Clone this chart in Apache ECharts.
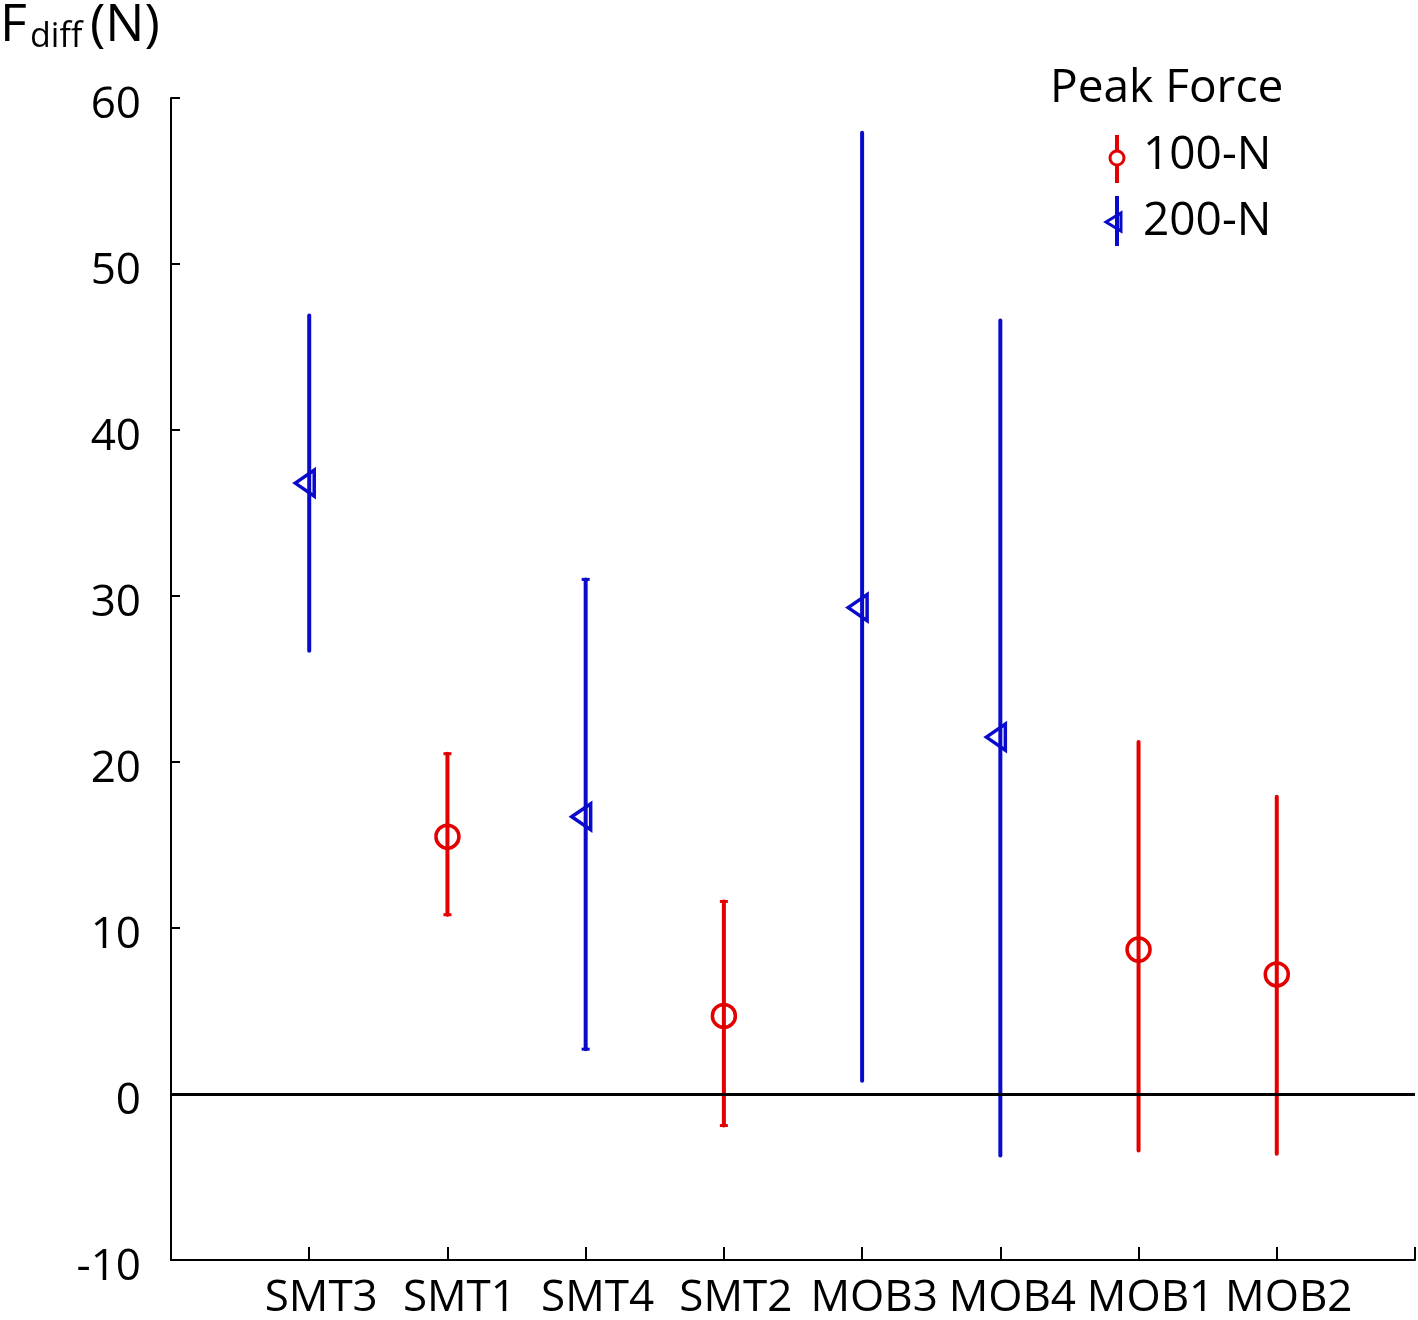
<!DOCTYPE html>
<html>
<head>
<meta charset="utf-8">
<script src="https://cdn.jsdelivr.net/npm/echarts@6/dist/echarts.min.js"></script>
<style>html,body{margin:0;padding:0;background:#fff}#c{width:1418px;height:1320px}</style>
</head>
<body>
<div id="c"></div>
<script>
// ---- data ----
const categories = ['SMT3','SMT1','SMT4','SMT2','MOB3','MOB4','MOB1','MOB2'];
const groups     = ['200-N','100-N','200-N','100-N','200-N','200-N','100-N','100-N'];
const means      = [36.8, 15.5, 16.7, 4.7, 29.3, 21.5, 8.7, 7.2];
const lowers     = [26.7, 10.8, 2.7, -1.9, 0.8, -3.7, -3.4, -3.6];
const uppers     = [46.9, 20.5, 31.0, 11.6, 57.9, 46.6, 21.2, 17.9];
const cappedCats = ['SMT1','SMT4','SMT2'];
const yTicks     = [-10, 0, 10, 20, 30, 40, 50, 60];
const legendNames = ['100-N','200-N'];

const RED = '#e30000', BLUE = '#0a0acc';
const FONT = '"Open Sans", sans-serif';

function seriesData(g) {
  const out = [];
  categories.forEach((c, i) => {
    if (groups[i] === g) out.push([c, means[i], lowers[i], uppers[i]]);
  });
  return out;
}

const d100 = seriesData('100-N');
const d200 = seriesData('200-N');

function makeRender(color, marker, data) {
  return function (params, api) {
    const cat = api.value(0);
    const m = api.coord([cat, api.value(1)]);
    const lo = api.coord([cat, api.value(2)]);
    const hi = api.coord([cat, api.value(3)]);
    const catName = data[params.dataIndex][0];
    const children = [{
      type: 'line',
      shape: { x1: lo[0], y1: lo[1], x2: hi[0], y2: hi[1] },
      style: { stroke: color, lineWidth: 4, lineCap: 'round' }
    }];
    if (cappedCats.indexOf(catName) >= 0) {
      [lo, hi].forEach(p => children.push({
        type: 'line',
        shape: { x1: p[0] - 4, y1: p[1], x2: p[0] + 4, y2: p[1] },
        style: { stroke: color, lineWidth: 3 }
      }));
    }
    if (marker === 'circle') {
      children.push({
        type: 'circle',
        shape: { cx: m[0], cy: m[1], r: 11.5 },
        style: { fill: 'none', stroke: color, lineWidth: 3.5 }
      });
    } else {
      const cx = m[0], cy = m[1];
      children.push({
        type: 'polygon',
        shape: { points: [[cx - 14, cy], [cx + 5, cy - 13], [cx + 5, cy + 13]] },
        style: { fill: 'none', stroke: color, lineWidth: 3.5, lineJoin: 'miter' }
      });
    }
    return { type: 'group', children };
  };
}

const chart = echarts.init(document.getElementById('c'), null, { renderer: 'canvas' });
chart.setOption({
  backgroundColor: '#fff',
  animation: false,
  grid: { left: 171, right: 3, top: 98, bottom: 59 },
  xAxis: {
    type: 'category',
    data: [''].concat(categories, ['']),
    boundaryGap: false,
    axisLine: { onZero: false, lineStyle: { color: '#000', width: 2 } },
    axisTick: { inside: true, length: 13, interval: 0, lineStyle: { color: '#000', width: 2 } },
    axisLabel: { interval: 0, color: '#000', fontSize: 44, fontFamily: FONT, margin: 16, padding: [0, 0, 0, 24] },
    splitLine: { show: false }
  },
  yAxis: {
    type: 'value',
    min: yTicks[0], max: yTicks[yTicks.length - 1], interval: 10,
    axisLine: { show: true, lineStyle: { color: '#000', width: 2 } },
    axisTick: { show: true, inside: true, length: 9, lineStyle: { color: '#000', width: 2 } },
    axisLabel: {
      color: '#000', fontSize: 44, fontFamily: FONT, margin: 30,
      formatter: v => '{a|' + v + '}',
      rich: { a: { fontSize: 44, fontFamily: FONT, color: '#000', padding: [14, 0, 0, 0] } }
    },
    splitLine: { show: false }
  },
  series: [
    {
      name: '100-N', type: 'custom', data: d100,
      renderItem: makeRender(RED, 'circle', d100),
      encode: { x: 0, y: [1, 2, 3] },
      markLine: {
        silent: true, symbol: 'none', label: { show: false },
        lineStyle: { color: '#000', width: 3, type: 'solid' },
        data: [{ yAxis: 0 }]
      },
      z: 3
    },
    {
      name: '200-N', type: 'custom', data: d200,
      renderItem: makeRender(BLUE, 'triangle', d200),
      encode: { x: 0, y: [1, 2, 3] },
      z: 3
    }
  ],
  graphic: [
    { type: 'text', left: 0, top: 0, style: { text: 'F', font: '52px "Open Sans", sans-serif', fill: '#000' } },
    { type: 'text', left: 30, top: 20, style: { text: 'diff', font: '34px "Open Sans", sans-serif', fill: '#000' } },
    { type: 'text', left: 90, top: 0, style: { text: '(N)', font: '52px "Open Sans", sans-serif', fill: '#000' } },
    { type: 'text', left: 1050, top: 66, style: { text: 'Peak Force', font: '46px "Open Sans", sans-serif', fill: '#000' } },
    // legend entry 1
    { type: 'line', shape: { x1: 1117, y1: 135, x2: 1117, y2: 183 }, style: { stroke: RED, lineWidth: 4 } },
    { type: 'circle', shape: { cx: 1117, cy: 158, r: 7 }, style: { fill: '#fff', stroke: RED, lineWidth: 3 } },
    { type: 'text', left: 1143, top: 133, style: { text: legendNames[0], font: '46px "Open Sans", sans-serif', fill: '#000' } },
    // legend entry 2
    { type: 'line', shape: { x1: 1117, y1: 196, x2: 1117, y2: 246 }, style: { stroke: BLUE, lineWidth: 4 } },
    { type: 'polygon', shape: { points: [[1106, 222], [1121, 213], [1121, 231]] }, style: { fill: 'none', stroke: BLUE, lineWidth: 3 } },
    { type: 'text', left: 1143, top: 199, style: { text: legendNames[1], font: '46px "Open Sans", sans-serif', fill: '#000' } }
  ]
});
</script>
</body>
</html>
